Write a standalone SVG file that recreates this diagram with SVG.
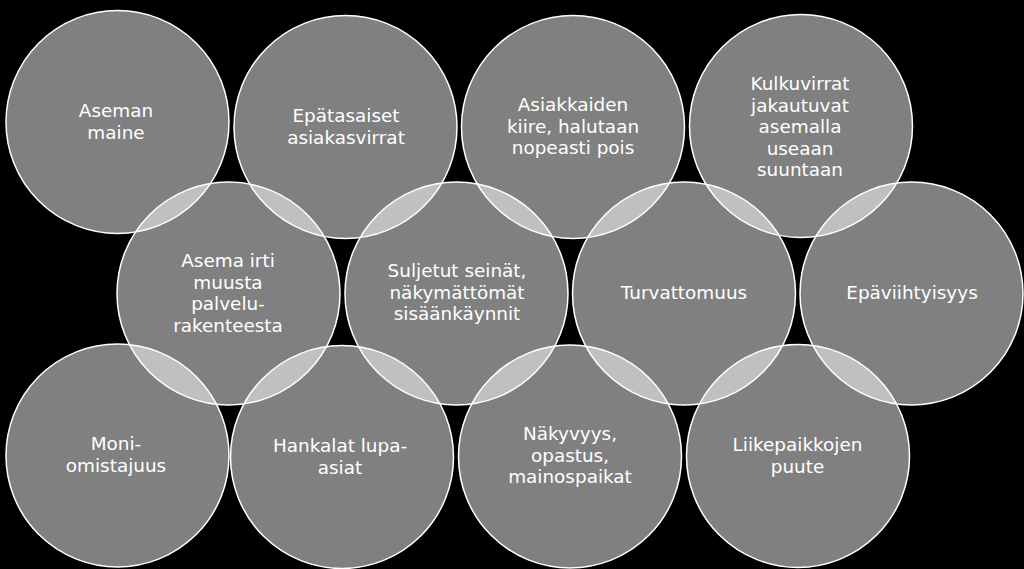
<svg xmlns="http://www.w3.org/2000/svg" width="1024" height="569" viewBox="0 0 1024 569">
<style>
.c{fill:#fff;fill-opacity:0.5;stroke:#fff;stroke-width:1.5}
.t{fill:#fff;font-family:"DejaVu Sans","Liberation Sans",sans-serif;font-size:18.4px;text-anchor:middle}
</style>
<rect width="1024" height="569" fill="#000"/>
<g id="n1"><circle class="c" cx="117.5" cy="122" r="111.5"/><text class="t"><tspan x="116" y="117">Aseman</tspan><tspan x="116" y="138.5">maine</tspan></text></g>
<g id="n2"><circle class="c" cx="345.5" cy="127" r="111.5"/><text class="t"><tspan x="346" y="122">Epätasaiset</tspan><tspan x="346" y="143.5">asiakasvirrat</tspan></text></g>
<g id="n3"><circle class="c" cx="573" cy="127" r="111.5"/><text class="t"><tspan x="573" y="111">Asiakkaiden</tspan><tspan x="573" y="132.5">kiire, halutaan</tspan><tspan x="573" y="154">nopeasti pois</tspan></text></g>
<g id="n4"><circle class="c" cx="801" cy="126" r="111.5"/><text class="t"><tspan x="800" y="90">Kulkuvirrat</tspan><tspan x="800" y="111.5">jakautuvat</tspan><tspan x="800" y="133">asemalla</tspan><tspan x="800" y="154.5">useaan</tspan><tspan x="800" y="176">suuntaan</tspan></text></g>
<g id="n5"><circle class="c" cx="228.5" cy="293.5" r="111.5"/><text class="t"><tspan x="228" y="267">Asema irti</tspan><tspan x="228" y="288.5">muusta</tspan><tspan x="228" y="310">palvelu-</tspan><tspan x="228" y="331.5">rakenteesta</tspan></text></g>
<g id="n6"><circle class="c" cx="456.5" cy="293.5" r="111.5"/><text class="t"><tspan x="457" y="277">Suljetut seinät,</tspan><tspan x="457" y="298.5">näkymättömät</tspan><tspan x="457" y="320">sisäänkäynnit</tspan></text></g>
<g id="n7"><circle class="c" cx="684" cy="293.5" r="111.5"/><text class="t"><tspan x="684" y="298.5">Turvattomuus</tspan></text></g>
<g id="n8"><circle class="c" cx="911.5" cy="293.5" r="111.5"/><text class="t"><tspan x="912" y="298.5">Epäviihtyisyys</tspan></text></g>
<g id="n9"><circle class="c" cx="117.5" cy="455.5" r="111.5"/><text class="t"><tspan x="116" y="450">Moni-</tspan><tspan x="116" y="471.5">omistajuus</tspan></text></g>
<g id="n10"><circle class="c" cx="342" cy="457" r="111.5"/><text class="t"><tspan x="340" y="452">Hankalat lupa-</tspan><tspan x="340" y="473.5">asiat</tspan></text></g>
<g id="n11"><circle class="c" cx="570" cy="456.5" r="111.5"/><text class="t"><tspan x="570" y="440">Näkyvyys,</tspan><tspan x="570" y="461.5">opastus,</tspan><tspan x="570" y="483">mainospaikat</tspan></text></g>
<g id="n12"><circle class="c" cx="798" cy="456" r="111.5"/><text class="t"><tspan x="797.5" y="451">Liikepaikkojen</tspan><tspan x="797.5" y="472.5">puute</tspan></text></g>
</svg>
